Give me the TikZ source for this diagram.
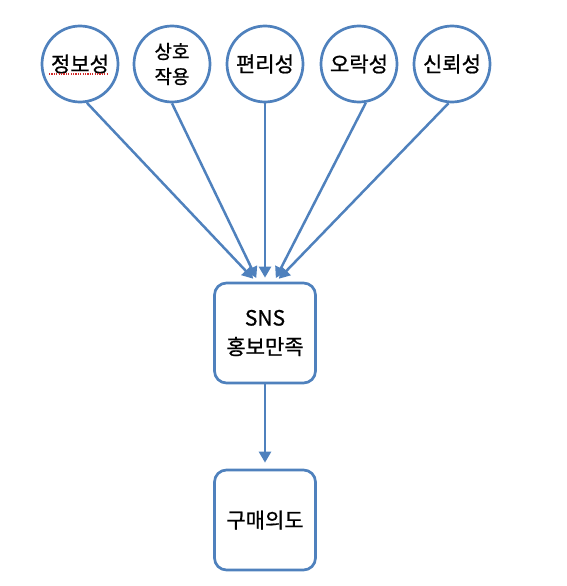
\documentclass[tikz,border=0pt]{standalone}
\usepackage{fontspec}
\setmainfont{Noto Sans CJK KR}[FakeBold=0.8]
\usetikzlibrary{arrows.meta,calc}
\definecolor{accent}{RGB}{79,129,189}
\definecolor{spell}{RGB}{210,40,40}
\begin{document}
\begin{tikzpicture}[x=1pt,y=-1pt,
  bubble/.style={circle,draw=accent,line width=2.7pt,fill=white,minimum size=76pt,inner sep=0pt,font=\fontsize{21}{25}\selectfont,align=center},
  panel/.style={rectangle,rounded corners=12pt,draw=accent,line width=2.7pt,fill=white,minimum width=101pt,minimum height=100pt,inner sep=0pt,font=\fontsize{21}{29}\selectfont,align=center},
  link/.style={draw=accent,line width=2.5pt,-{Triangle[length=11pt,width=12pt]},shorten >=4pt}]
\useasboundingbox (0,0) rectangle (566,586);
\node[bubble] (c1) at (80,64) {정보성};
\node[bubble,font=\fontsize{19}{25}\selectfont] (c2) at (172,64) {상호\\작용};
\node[bubble] (c3) at (265,64) {편리성};
\node[bubble] (c4) at (359,64) {오락성};
\node[bubble] (c5) at (452,64) {신뢰성};
\node[panel] (sns) at (265,333) {SNS\\홍보만족};
\node[panel] (buy) at (265,520) {구매의도};
\draw[spell,line width=1.2pt,dash pattern=on 1.2pt off 1.2pt] ($(c1.center)+(-31,10)$) -- ($(c1.center)+(27,10)$);
\path (sns.north) ++(-9,0) coordinate (t1);
\path (sns.north) ++(-7,0) coordinate (t2);
\path (sns.north) ++(9,0) coordinate (t4);
\path (sns.north) ++(11,0) coordinate (t5);
\draw[link] (c1.-80) -- (t1);
\draw[link] (c2.south) -- (t2);
\draw[link] (c3.south) -- (sns.north);
\draw[link] (c4.-80) -- (t4);
\draw[link] (c5.-95) -- (t5);
\draw[link,shorten >=6pt] (sns.south) -- (buy.north);
\end{tikzpicture}
\end{document}
